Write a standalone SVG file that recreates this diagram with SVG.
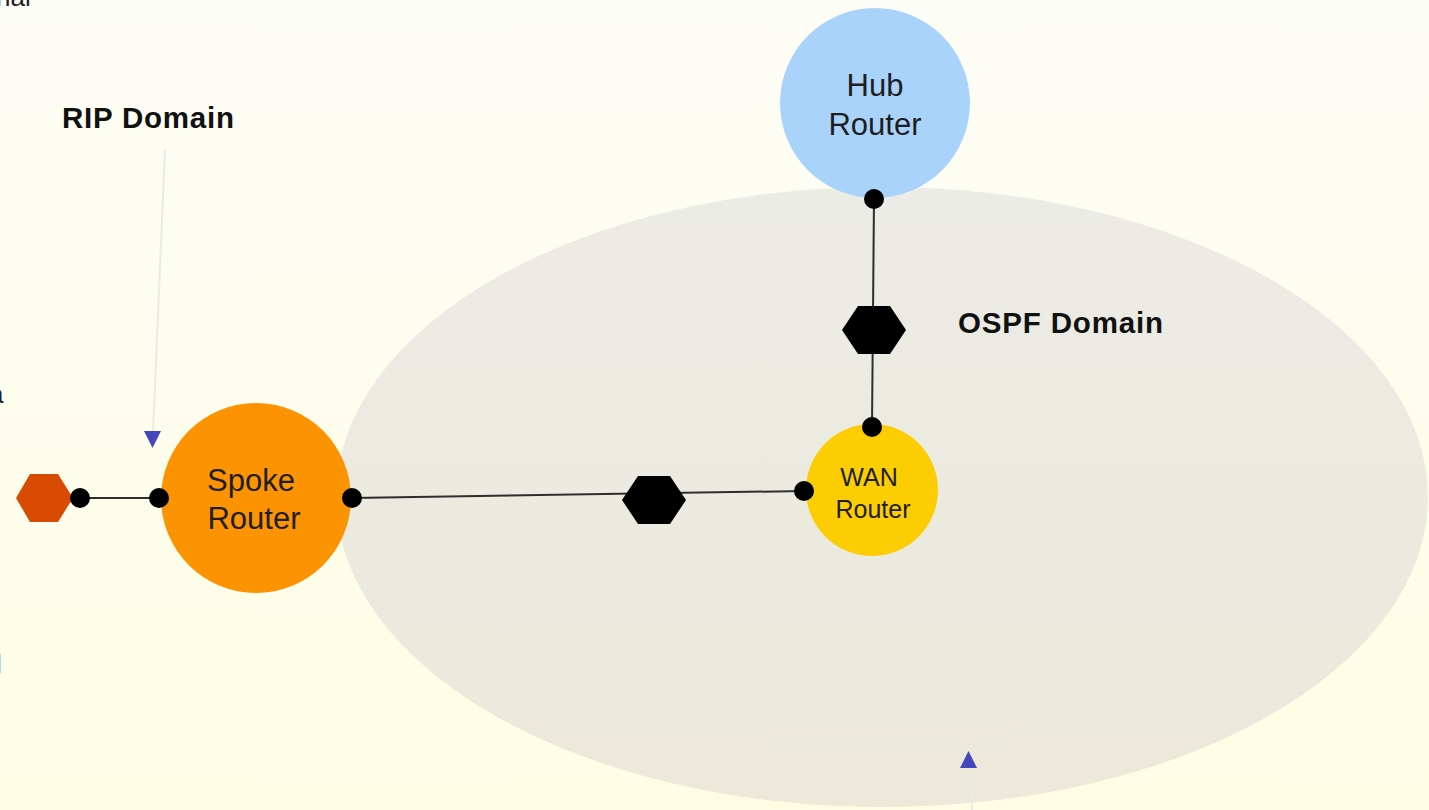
<svg xmlns="http://www.w3.org/2000/svg" width="1429" height="810" viewBox="0 0 1429 810">
  <defs>
    <linearGradient id="bg" x1="0" y1="0" x2="0" y2="1">
      <stop offset="0" stop-color="#fdfdf7"/>
      <stop offset="1" stop-color="#fefde4"/>
    </linearGradient>
    <linearGradient id="domainFill" x1="0" y1="0" x2="0" y2="1">
      <stop offset="0" stop-color="#ececE6"/>
      <stop offset="1" stop-color="#ece9da"/>
    </linearGradient>
    <polygon id="hex" points="-32,0 -16,-24 16,-24 32,0 16,24 -16,24"/>
  </defs>
  <style>
    .label { font-family: "Liberation Sans", Arial, sans-serif; fill: #1e1e1e; text-anchor: middle; }
    .title { font-family: "Liberation Sans", Arial, sans-serif; font-weight: bold; font-size: 29.5px; fill: #111; }
    .frag { font-family: "Liberation Sans", Arial, sans-serif; font-size: 26px; fill: #222; }
    .link { stroke: #2e2e2e; stroke-width: 2; fill: none; }
    .port { fill: #000; }
    .pointer { stroke: #ebebe6; stroke-width: 2; fill: none; }
    .tip { fill: #4646bb; }
  </style>

  <rect width="1429" height="810" fill="url(#bg)"/>

  <!-- text running in from the left margin -->
  <text class="frag" x="-4" y="6">nal</text>
  <text class="frag" x="-11" y="403">a</text>
  <text class="frag" x="-4" y="673">l</text>

  <!-- OSPF domain area -->
  <g id="ospf-domain">
    <ellipse cx="882" cy="497" rx="546" ry="310" fill="url(#domainFill)"/>
    <text class="title" x="958" y="333" textLength="205" lengthAdjust="spacing">OSPF Domain</text>
  </g>

  <g id="rip-domain">
    <text class="title" x="62" y="128" textLength="172" lengthAdjust="spacing">RIP Domain</text>
  </g>

  <!-- connectors -->
  <g id="connectors">
    <line class="link" x1="80" y1="498" x2="159" y2="498"/>
    <line class="link" x1="352" y1="498" x2="804" y2="491"/>
    <line class="link" x1="874" y1="199" x2="872" y2="427"/>
    <line class="pointer" x1="165" y1="150" x2="153" y2="432"/>
    <line class="pointer" x1="970" y1="768" x2="972" y2="810" stroke="#d4d4dc"/>
    <polygon class="tip" points="144,431 161,431 152.5,448"/>
    <polygon class="tip" points="960,768 977,768 968.5,751"/>
  </g>

  <g id="hub-router">
    <circle cx="875" cy="103" r="95" fill="#a9d3fb"/>
    <text class="label" x="875" y="96" font-size="31">Hub</text>
    <text class="label" x="875" y="135" font-size="31">Router</text>
  </g>

  <g id="spoke-router">
    <circle cx="256" cy="498" r="95" fill="#fb9302"/>
    <text class="label" x="251" y="491" font-size="31">Spoke</text>
    <text class="label" x="254" y="529" font-size="31">Router</text>
  </g>

  <g id="wan-router">
    <circle cx="872" cy="490" r="66" fill="#fccd02"/>
    <text class="label" x="869" y="486" font-size="25">WAN</text>
    <text class="label" x="873" y="518" font-size="25">Router</text>
  </g>

  <g id="hub-link-switch">
    <use href="#hex" x="874" y="330" fill="#000"/>
  </g>
  <g id="spoke-link-switch">
    <use href="#hex" x="654" y="500" fill="#000"/>
  </g>
  <g id="rip-switch">
    <polygon points="16,498 30,474 58,474 73,498 58,522 30,522" fill="#d94a02"/>
  </g>

  <!-- interface ports -->
  <g id="ports">
    <circle class="port" cx="874" cy="199" r="10"/>
    <circle class="port" cx="872" cy="427" r="10"/>
    <circle class="port" cx="804" cy="491" r="10"/>
    <circle class="port" cx="352" cy="498" r="10"/>
    <circle class="port" cx="159" cy="498" r="10"/>
    <circle class="port" cx="80" cy="498" r="10"/>
  </g>
</svg>
